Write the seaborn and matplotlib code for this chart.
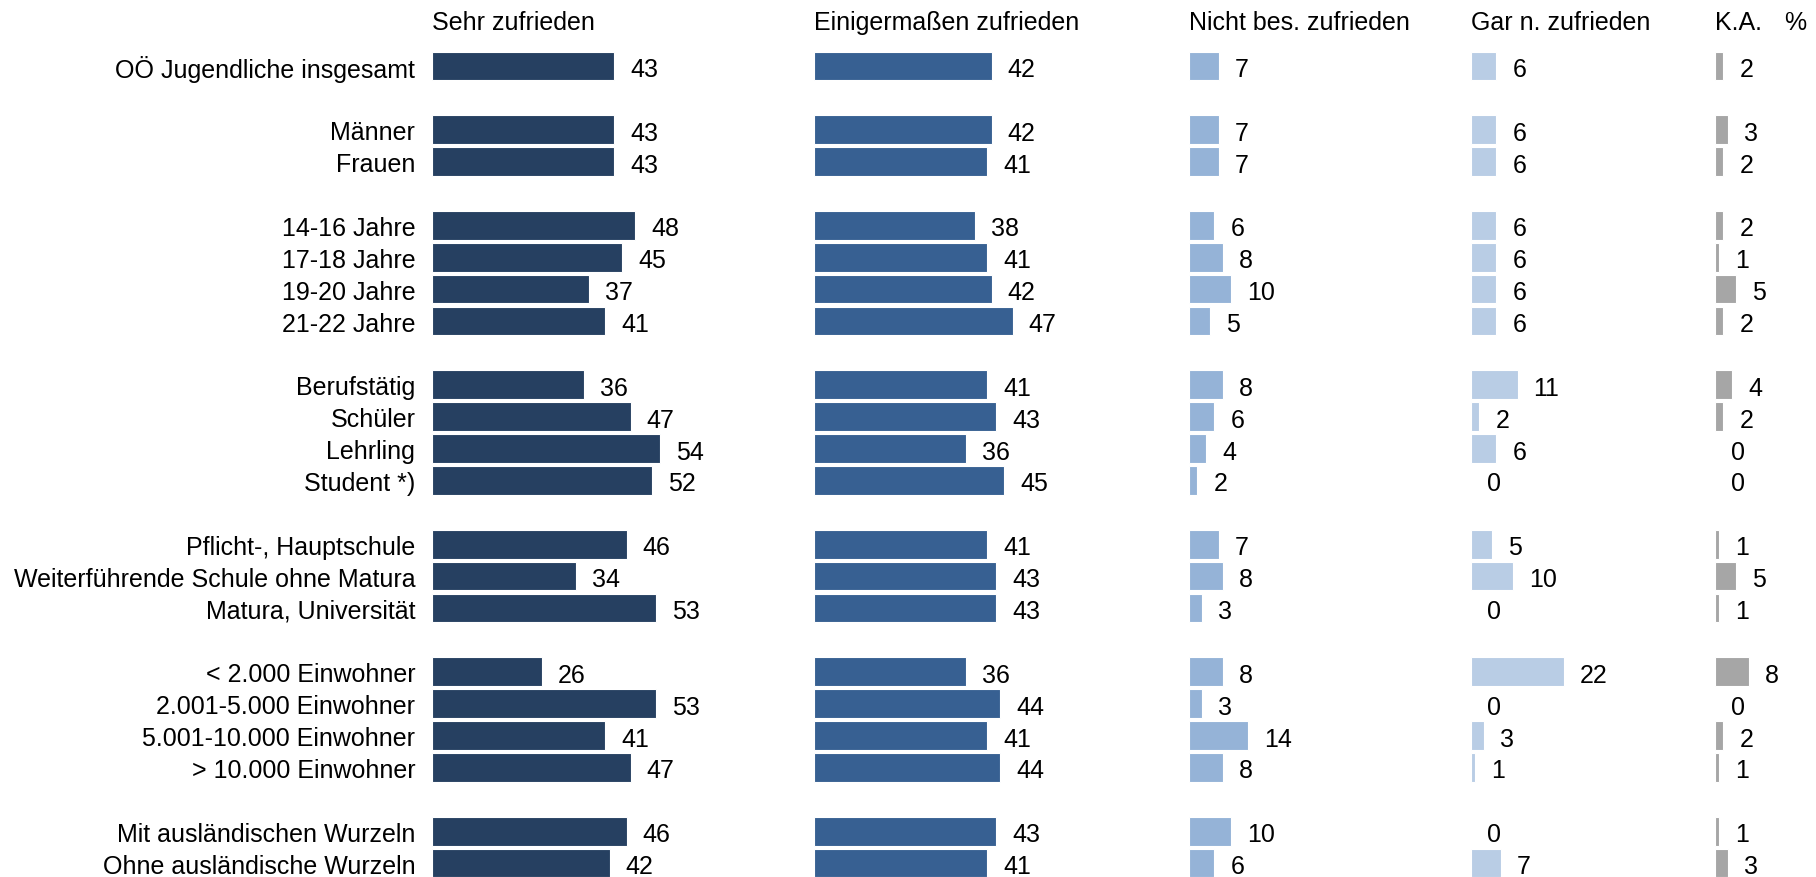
import matplotlib
matplotlib.use("Agg")
import matplotlib.pyplot as plt
import seaborn as sns
import pandas as pd

# Kategorien in Gruppen (Leerzeile zwischen den Gruppen)
groups = [
    ["OÖ Jugendliche insgesamt"],
    ["Männer", "Frauen"],
    ["14-16 Jahre", "17-18 Jahre", "19-20 Jahre", "21-22 Jahre"],
    ["Berufstätig", "Schüler", "Lehrling", "Student *)"],
    ["Pflicht-, Hauptschule", "Weiterführende Schule ohne Matura", "Matura, Universität"],
    ["< 2.000 Einwohner", "2.001-5.000 Einwohner", "5.001-10.000 Einwohner", "> 10.000 Einwohner"],
    ["Mit ausländischen Wurzeln", "Ohne ausländische Wurzeln"],
]

sehr_zufrieden = [43, 43, 43, 48, 45, 37, 41, 36, 47, 54, 52, 46, 34, 53, 26, 53, 41, 47, 46, 42]
einigermassen = [42, 42, 41, 38, 41, 42, 47, 41, 43, 36, 45, 41, 43, 43, 36, 44, 41, 44, 43, 41]
nicht_bes = [7, 7, 7, 6, 8, 10, 5, 8, 6, 4, 2, 7, 8, 3, 8, 3, 14, 8, 10, 6]
gar_nicht = [6, 6, 6, 6, 6, 6, 6, 11, 2, 6, 0, 5, 10, 0, 22, 0, 3, 1, 0, 7]
keine_angabe = [2, 3, 2, 2, 1, 5, 2, 4, 2, 0, 0, 1, 5, 1, 8, 0, 2, 1, 1, 3]

headers = ["Sehr zufrieden", "Einigermaßen zufrieden", "Nicht bes. zufrieden",
           "Gar n. zufrieden", "K.A."]
colors = ["#264061", "#376092", "#95B3D7", "#B9CDE5", "#A6A6A6"]
series = [sehr_zufrieden, einigermassen, nicht_bes, gar_nicht, keine_angabe]

# y-Positionen: fortlaufend, mit einer Leerzeile zwischen den Gruppen
labels, ypos = [], []
pos = 0
for g in groups:
    for lab in g:
        labels.append(lab)
        ypos.append(pos)
        pos += 1
    pos += 1
last_y = ypos[-1]

sns.set_theme(style="white")
plt.rcParams["font.family"] = ["Liberation Sans", "DejaVu Sans"]
FS = 18

W, H = 1816, 878
fig = plt.figure(figsize=(W / 100, H / 100), dpi=100)

px_per_unit = 4.23
panel_left = [432, 814, 1189, 1471, 1715]
panel_right = [790, 1170, 1450, 1700, 1816]
top_px, bottom_px = 51, 880

for i, (vals, col, head) in enumerate(zip(series, colors, headers)):
    l, r = panel_left[i], panel_right[i]
    ax = fig.add_axes([l / W, 1 - bottom_px / H, (r - l) / W, (bottom_px - top_px) / H])
    df = pd.DataFrame({"y": ypos, "v": vals})
    sns.barplot(data=df, x="v", y="y", orient="h", native_scale=True, color=col,
                saturation=1, width=0.9, edgecolor="white", linewidth=0.8, ax=ax)
    ax.set_xlim(0, (r - l) / px_per_unit)
    ax.set_ylim(last_y + 0.5, -0.5)
    ax.set_xlabel("")
    ax.set_ylabel("")
    ax.set_xticks([])
    for s in ax.spines.values():
        s.set_visible(False)
    for v, y in zip(vals, ypos):
        ax.annotate(f"{v}", (v, y), xytext=(16, -3), textcoords="offset pixels",
                    ha="left", va="center", fontsize=FS, color="black")
    if i == 0:
        ax.set_yticks(ypos)
        ax.set_yticklabels(labels, fontsize=FS, color="black")
        ax.tick_params(axis="y", length=0, pad=12)
    else:
        ax.set_yticks([])
    fig.text(l / W, 1 - 23 / H, head, ha="left", va="center", fontsize=FS, color="black")

fig.text(1806 / W, 1 - 23 / H, "%", ha="right", va="center", fontsize=FS, color="black")

fig.savefig("out.png", dpi=100, facecolor="white")
